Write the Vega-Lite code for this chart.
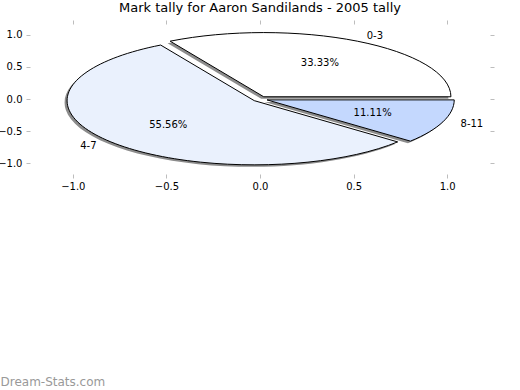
{
  "$schema": "https://vega.github.io/schema/vega-lite/v6.json",
  "autosize": {"type": "none"},
  "padding": {"left": 26, "top": 20, "right": 26, "bottom": 212},
  "width": 468,
  "height": 158,
  "background": "white",
  "title": {"text": "Mark tally for Aaron Sandilands - 2005 tally", "font": "DejaVu Sans", "fontSize": 13, "fontWeight": "normal", "color": "black", "baseline": "alphabetic", "offset": -5, "anchor": "middle"},
  "config": {
    "view": {"stroke": null},
    "axis": {"domain": false, "grid": false, "tickColor": "#bdbdbd", "tickSize": -4, "tickWidth": 1, "labelFont": "DejaVu Sans", "labelFontSize": 10, "labelColor": "black"}
  },
  "data": {"values": [
    {"label": "0-3", "value": 3},
    {"label": "4-7", "value": 5},
    {"label": "8-11", "value": 1}
  ]},
  "transform": [
    {"joinaggregate": [{"op": "sum", "field": "value", "as": "total"}]},
    {"window": [{"op": "sum", "field": "value", "as": "cum"}], "sort": [{"field": "label"}], "frame": [null, 0]},
    {"calculate": "2*PI*(datum.cum-datum.value)/datum.total", "as": "a0"},
    {"calculate": "2*PI*datum.cum/datum.total", "as": "a1"},
    {"calculate": "(datum.a0+datum.a1)/2", "as": "am"},
    {"calculate": "0.04*cos(datum.am)", "as": "ox"},
    {"calculate": "0.04*sin(datum.am)", "as": "oy"},
    {"calculate": "'M0,0L'+(round(18720*cos(datum.a0))/100)+','+(round(-6420*sin(datum.a0))/100)+'A187.2,64.2 0 '+(datum.a1-datum.a0>PI?1:0)+' 0 '+(round(18720*cos(datum.a1))/100)+','+(round(-6420*sin(datum.a1))/100)+'Z'", "as": "path"},
    {"calculate": "datum.ox+0.6*cos(datum.am)", "as": "px"},
    {"calculate": "datum.oy+0.6*sin(datum.am)", "as": "py"},
    {"calculate": "datum.ox+1.1*cos(datum.am)", "as": "lx"},
    {"calculate": "datum.oy+1.1*sin(datum.am)", "as": "ly"},
    {"calculate": "format(100*datum.value/datum.total,'.2f')+'%'", "as": "pct"}
  ],
  "layer": [
    {
      "mark": {"type": "point", "filled": true, "size": 4, "fill": "#8c8c8c", "fillOpacity": 1, "strokeOpacity": 0, "xOffset": -2.5, "yOffset": 2},
      "encoding": {
        "x": {"field": "ox", "type": "quantitative", "scale": {"domain": [-1.25, 1.25], "nice": false, "zero": false}, "axis": {"orient": "top", "labels": false, "title": null, "values": [-1, -0.5, 0, 0.5, 1]}},
        "y": {"field": "oy", "type": "quantitative", "scale": {"domain": [-1.23, 1.23], "nice": false, "zero": false}, "axis": {"orient": "right", "labels": false, "title": null, "values": [-1, -0.5, 0, 0.5, 1]}},
        "shape": {"field": "path", "type": "nominal", "scale": null}
      }
    },
    {
      "mark": {"type": "point", "filled": true, "size": 4, "stroke": "black", "strokeWidth": 1, "fillOpacity": 1, "strokeOpacity": 1, "opacity": 1},
      "encoding": {
        "x": {"field": "ox", "type": "quantitative", "axis": {"orient": "bottom", "values": [-1, -0.5, 0, 0.5, 1], "format": ".1f", "labelPadding": 7, "title": "Dream-Stats.com", "titleFont": "DejaVu Sans", "titleFontSize": 12, "titleFontWeight": "normal", "titleColor": "#999999", "titleAnchor": null, "titleAlign": "left", "titleBaseline": "alphabetic", "titleX": -26, "titleY": 207}},
        "y": {"field": "oy", "type": "quantitative", "axis": {"orient": "left", "values": [-1, -0.5, 0, 0.5, 1], "format": ".1f", "labelPadding": 8, "title": null}},
        "shape": {"field": "path", "type": "nominal", "scale": null},
        "fill": {"field": "label", "type": "nominal", "scale": {"domain": ["0-3", "4-7", "8-11"], "range": ["#ffffff", "#eaf1fd", "#c4d8fe"]}, "legend": null}
      }
    },
    {
      "mark": {"type": "text", "font": "DejaVu Sans", "fontSize": 10, "color": "black", "align": "center", "baseline": "middle"},
      "encoding": {
        "x": {"field": "px", "type": "quantitative", "axis": null},
        "y": {"field": "py", "type": "quantitative", "axis": null},
        "text": {"field": "pct"}
      }
    },
    {
      "transform": [{"filter": "datum.lx > 0"}],
      "mark": {"type": "text", "font": "DejaVu Sans", "fontSize": 10, "color": "black", "align": "left", "baseline": "middle"},
      "encoding": {
        "x": {"field": "lx", "type": "quantitative", "axis": null},
        "y": {"field": "ly", "type": "quantitative", "axis": null},
        "text": {"field": "label"}
      }
    },
    {
      "transform": [{"filter": "datum.lx <= 0"}],
      "mark": {"type": "text", "font": "DejaVu Sans", "fontSize": 10, "color": "black", "align": "right", "baseline": "middle"},
      "encoding": {
        "x": {"field": "lx", "type": "quantitative", "axis": null},
        "y": {"field": "ly", "type": "quantitative", "axis": null},
        "text": {"field": "label"}
      }
    }
  ],
  "resolve": {"axis": {"x": "independent", "y": "independent"}}
}
